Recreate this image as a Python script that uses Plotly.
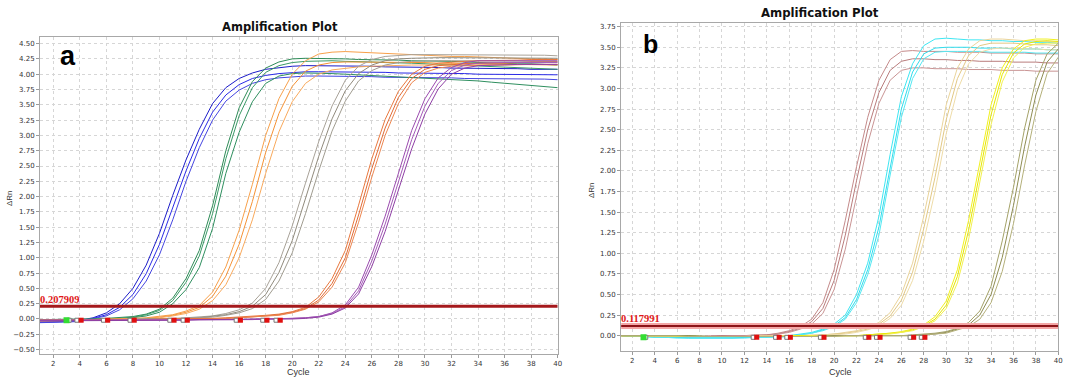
import plotly.graph_objects as go

cycles = list(range(1, 41))
x_ticks = list(range(2, 41, 2))
y_ticks_a = [-0.5 + 0.25 * i for i in range(21)]
y_ticks_b = [0.25 * i for i in range(16)]

# ---------------- panel a ----------------
blue_1 = [-0.05,-0.05,-0.04,-0.02,0.02,0.10,0.25,0.50,0.88,1.40, 2.02,2.60,3.10,3.52,3.78,3.93,4.02,4.08,4.11,4.13, 4.14,4.14,4.14,4.13,4.13,4.13,4.12,4.12,4.11,4.11, 4.11,4.10,4.10,4.10,4.09,4.09,4.09,4.08,4.08,4.08]
blue_2 = [-0.05,-0.05,-0.04,-0.03,0.01,0.07,0.19,0.40,0.74,1.22, 1.82,2.42,2.95,3.38,3.66,3.83,3.93,3.98,4.01,4.03, 4.04,4.04,4.04,4.04,4.03,4.03,4.03,4.02,4.02,4.02, 4.01,4.01,4.01,4.00,4.00,4.00,3.99,3.99,3.99,3.99]
blue_3 = [-0.06,-0.06,-0.05,-0.04,0.00,0.05,0.15,0.33,0.62,1.05, 1.62,2.25,2.80,3.25,3.56,3.74,3.85,3.91,3.94,3.96, 3.97,3.97,3.97,3.96,3.96,3.96,3.95,3.95,3.95,3.94, 3.94,3.94,3.93,3.93,3.93,3.92,3.92,3.92,3.92,3.91]
green_1 = [-0.01,-0.01,-0.01,0.00,0.00,0.01,0.02,0.04,0.08,0.16, 0.34,0.66,1.12,1.85,2.75,3.45,3.88,4.10,4.20,4.25, 4.26,4.26,4.25,4.25,4.24,4.24,4.23,4.23,4.22,4.22, 4.21,4.21,4.20,4.19,4.19,4.18,4.17,4.17,4.16,4.15]
green_2 = [-0.01,-0.01,-0.01,-0.01,0.00,0.00,0.01,0.03,0.07,0.14, 0.30,0.60,1.03,1.72,2.62,3.32,3.78,4.03,4.14,4.19, 4.21,4.22,4.22,4.21,4.21,4.20,4.19,4.19,4.18,4.17, 4.16,4.16,4.15,4.14,4.13,4.12,4.11,4.10,4.09,4.08]
green_3 = [-0.02,-0.02,-0.01,-0.01,-0.01,0.00,0.01,0.02,0.05,0.11, 0.25,0.48,0.84,1.48,2.38,3.05,3.55,3.85,3.97,4.01, 4.02,4.02,4.01,4.00,3.99,3.98,3.97,3.96,3.95,3.94, 3.93,3.92,3.91,3.89,3.87,3.85,3.83,3.81,3.80,3.78]
orange_1 = [-0.02,-0.02,-0.02,-0.01,-0.01,0.00,0.00,0.01,0.02,0.04, 0.07,0.13,0.22,0.44,0.85,1.45,2.20,3.00,3.60,4.00, 4.22,4.33,4.36,4.37,4.36,4.35,4.33,4.32,4.31,4.30, 4.30,4.29,4.29,4.28,4.27,4.27,4.26,4.25,4.25,4.24]
orange_2 = [-0.02,-0.02,-0.02,-0.02,-0.01,-0.01,0.00,0.00,0.01,0.03, 0.06,0.11,0.19,0.37,0.70,1.22,1.92,2.72,3.36,3.80, 4.05,4.15,4.19,4.20,4.20,4.20,4.20,4.19,4.19,4.19, 4.18,4.18,4.18,4.17,4.17,4.17,4.16,4.16,4.15,4.15]
orange_3 = [-0.03,-0.03,-0.02,-0.02,-0.02,-0.01,-0.01,0.00,0.01,0.02, 0.05,0.09,0.16,0.30,0.56,1.00,1.62,2.38,3.06,3.55, 3.85,4.00,4.07,4.10,4.12,4.13,4.14,4.14,4.15,4.15, 4.15,4.15,4.16,4.16,4.16,4.16,4.16,4.16,4.16,4.16]
gray_1 = [-0.02,-0.02,-0.02,-0.02,-0.01,-0.01,-0.01,0.00,0.00,0.00, 0.01,0.02,0.03,0.05,0.09,0.15,0.26,0.50,0.92,1.52, 2.22,2.90,3.48,3.90,4.13,4.24,4.29,4.31,4.32,4.32, 4.32,4.32,4.32,4.32,4.31,4.31,4.31,4.31,4.31,4.30]
gray_2 = [-0.02,-0.02,-0.02,-0.02,-0.02,-0.01,-0.01,-0.01,0.00,0.00, 0.00,0.01,0.02,0.04,0.07,0.12,0.21,0.40,0.76,1.28, 1.97,2.66,3.27,3.73,4.01,4.15,4.22,4.25,4.26,4.27, 4.27,4.27,4.27,4.27,4.27,4.26,4.26,4.26,4.26,4.26]
gray_3 = [-0.03,-0.03,-0.02,-0.02,-0.02,-0.02,-0.01,-0.01,-0.01,0.00, 0.00,0.01,0.02,0.03,0.06,0.10,0.17,0.32,0.62,1.08, 1.72,2.42,3.07,3.56,3.89,4.06,4.15,4.19,4.21,4.22, 4.22,4.22,4.22,4.22,4.22,4.22,4.21,4.21,4.21,4.21]
coral_1 = [-0.02,-0.02,-0.02,-0.02,-0.02,-0.01,-0.01,-0.01,-0.01,0.00, 0.00,0.00,0.01,0.01,0.02,0.03,0.04,0.06,0.08,0.12, 0.19,0.36,0.66,1.12,1.86,2.62,3.26,3.72,4.00,4.13, 4.18,4.20,4.21,4.22,4.22,4.23,4.23,4.24,4.24,4.24]
coral_2 = [-0.02,-0.02,-0.02,-0.02,-0.02,-0.02,-0.01,-0.01,-0.01,-0.01, 0.00,0.00,0.00,0.01,0.01,0.02,0.03,0.05,0.07,0.11, 0.17,0.31,0.58,1.00,1.70,2.46,3.12,3.62,3.93,4.08, 4.14,4.16,4.17,4.18,4.18,4.19,4.19,4.20,4.20,4.20]
coral_3 = [-0.03,-0.03,-0.02,-0.02,-0.02,-0.02,-0.02,-0.01,-0.01,-0.01, -0.01,0.00,0.00,0.00,0.01,0.02,0.03,0.04,0.06,0.10, 0.16,0.28,0.52,0.92,1.58,2.32,3.00,3.52,3.86,4.03, 4.10,4.13,4.14,4.15,4.15,4.15,4.16,4.16,4.16,4.16]
purple_1 = [-0.02,-0.02,-0.02,-0.02,-0.02,-0.02,-0.02,-0.02,-0.02,-0.02, -0.01,-0.01,-0.01,-0.01,-0.01,-0.01,0.00,0.00,0.00,0.01, 0.02,0.04,0.10,0.23,0.52,1.05,1.68,2.40,3.08,3.60, 3.94,4.11,4.19,4.22,4.22,4.22,4.22,4.22,4.22,4.22]
purple_2 = [-0.02,-0.02,-0.02,-0.02,-0.02,-0.02,-0.02,-0.02,-0.02,-0.02, -0.02,-0.01,-0.01,-0.01,-0.01,-0.01,-0.01,0.00,0.00,0.01, 0.02,0.04,0.09,0.20,0.46,0.95,1.55,2.25,2.93,3.48, 3.85,4.06,4.15,4.18,4.19,4.19,4.19,4.19,4.19,4.19]
purple_3 = [-0.03,-0.03,-0.03,-0.02,-0.02,-0.02,-0.02,-0.02,-0.02,-0.02, -0.02,-0.02,-0.01,-0.01,-0.01,-0.01,-0.01,-0.01,0.00,0.00, 0.01,0.03,0.08,0.18,0.41,0.86,1.43,2.10,2.78,3.35, 3.76,4.00,4.10,4.14,4.15,4.16,4.16,4.16,4.16,4.16]

# ---------------- panel b ----------------
rosy_1 = [0.00,0.00,0.00,-0.01,-0.01,-0.01,-0.01,-0.01,0.00,0.00, 0.00,0.00,0.01,0.01,0.03,0.06,0.11,0.20,0.40,0.80, 1.40,2.05,2.65,3.10,3.35,3.45,3.46,3.45,3.45,3.45, 3.44,3.44,3.44,3.43,3.43,3.43,3.43,3.42,3.42,3.42]
rosy_2 = [0.00,0.00,-0.01,-0.01,-0.01,-0.01,-0.01,-0.01,-0.01,0.00, 0.00,0.00,0.00,0.01,0.02,0.05,0.09,0.17,0.33,0.67, 1.22,1.88,2.50,2.95,3.22,3.33,3.36,3.36,3.35,3.35, 3.34,3.34,3.33,3.33,3.33,3.32,3.32,3.32,3.31,3.31]
rosy_3 = [0.00,-0.01,-0.01,-0.01,-0.01,-0.02,-0.02,-0.01,-0.01,-0.01, 0.00,0.00,0.00,0.00,0.02,0.04,0.08,0.14,0.27,0.56, 1.05,1.70,2.33,2.82,3.10,3.22,3.25,3.25,3.24,3.24, 3.24,3.23,3.23,3.23,3.22,3.22,3.22,3.21,3.21,3.21]
cyan_1 = [0.00,0.00,-0.01,-0.01,-0.02,-0.02,-0.02,-0.02,-0.02,-0.02, -0.02,-0.02,-0.02,-0.01,-0.01,0.00,0.02,0.04,0.08,0.14, 0.25,0.50,0.88,1.45,2.20,2.90,3.30,3.52,3.60,3.61, 3.60,3.59,3.59,3.58,3.58,3.57,3.57,3.56,3.56,3.55]
cyan_2 = [0.00,-0.01,-0.01,-0.02,-0.02,-0.02,-0.03,-0.03,-0.03,-0.03, -0.03,-0.02,-0.02,-0.02,-0.01,0.00,0.01,0.03,0.07,0.12, 0.22,0.44,0.80,1.32,2.05,2.75,3.20,3.42,3.49,3.50, 3.50,3.50,3.49,3.49,3.49,3.48,3.48,3.48,3.47,3.47]
cyan_3 = [0.00,-0.01,-0.01,-0.02,-0.02,-0.03,-0.03,-0.03,-0.03,-0.03, -0.03,-0.03,-0.02,-0.02,-0.02,-0.01,0.01,0.03,0.06,0.11, 0.20,0.40,0.74,1.22,1.95,2.65,3.12,3.36,3.44,3.45, 3.45,3.45,3.45,3.44,3.44,3.44,3.44,3.43,3.43,3.43]
wheat_1 = [0.00,0.00,0.00,0.00,0.00,-0.01,-0.01,-0.01,-0.01,-0.01, -0.01,-0.01,0.00,0.00,0.00,0.00,0.00,0.01,0.01,0.02, 0.04,0.06,0.10,0.16,0.28,0.50,0.88,1.45,2.10,2.80, 3.25,3.48,3.58,3.60,3.60,3.59,3.58,3.58,3.57,3.56]
wheat_2 = [0.00,0.00,0.00,0.00,-0.01,-0.01,-0.01,-0.01,-0.01,-0.01, -0.01,-0.01,-0.01,0.00,0.00,0.00,0.00,0.00,0.01,0.02, 0.03,0.05,0.08,0.14,0.24,0.43,0.77,1.30,1.92,2.62, 3.12,3.40,3.52,3.55,3.55,3.55,3.54,3.53,3.53,3.52]
wheat_3 = [0.00,0.00,0.00,-0.01,-0.01,-0.01,-0.01,-0.01,-0.01,-0.01, -0.01,-0.01,-0.01,-0.01,0.00,0.00,0.00,0.00,0.01,0.01, 0.02,0.04,0.07,0.12,0.21,0.37,0.67,1.15,1.75,2.45, 2.98,3.30,3.44,3.48,3.49,3.49,3.48,3.48,3.47,3.47]
yellow_1 = [0.00,0.00,0.00,0.00,0.00,0.00,0.00,-0.01,-0.01,-0.01, -0.01,-0.01,-0.01,-0.01,-0.01,0.00,0.00,0.00,0.00,0.00, 0.00,0.00,0.01,0.02,0.03,0.05,0.08,0.13,0.23,0.42, 0.80,1.40,2.10,2.80,3.25,3.48,3.58,3.60,3.60,3.59]
yellow_2 = [0.00,0.00,0.00,0.00,0.00,0.00,-0.01,-0.01,-0.01,-0.01, -0.01,-0.01,-0.01,-0.01,-0.01,-0.01,0.00,0.00,0.00,0.00, 0.00,0.00,0.01,0.02,0.03,0.04,0.07,0.12,0.20,0.37, 0.72,1.28,1.98,2.68,3.17,3.43,3.54,3.57,3.58,3.57]
yellow_3 = [0.00,0.00,0.00,0.00,0.00,-0.01,-0.01,-0.01,-0.01,-0.01, -0.01,-0.01,-0.01,-0.01,-0.01,-0.01,-0.01,0.00,0.00,0.00, 0.00,0.00,0.00,0.01,0.02,0.04,0.06,0.11,0.18,0.33, 0.64,1.17,1.85,2.56,3.08,3.37,3.50,3.54,3.55,3.55]
olive_1 = [0.00,0.00,0.00,0.00,0.00,0.00,0.00,0.00,-0.01,-0.01, -0.01,-0.01,-0.01,-0.01,-0.01,-0.01,-0.01,-0.01,0.00,0.00, 0.00,0.00,0.00,0.00,0.00,0.00,0.01,0.02,0.03,0.05, 0.09,0.16,0.30,0.60,1.15,1.80,2.52,3.10,3.42,3.55]
olive_2 = [0.00,0.00,0.00,0.00,0.00,0.00,0.00,-0.01,-0.01,-0.01, -0.01,-0.01,-0.01,-0.01,-0.01,-0.01,-0.01,-0.01,-0.01,0.00, 0.00,0.00,0.00,0.00,0.00,0.00,0.00,0.01,0.02,0.04, 0.08,0.13,0.25,0.50,0.95,1.58,2.30,2.92,3.32,3.48]
olive_3 = [0.00,0.00,0.00,0.00,0.00,0.00,-0.01,-0.01,-0.01,-0.01, -0.01,-0.01,-0.01,-0.01,-0.01,-0.01,-0.01,-0.01,-0.01,-0.01, 0.00,0.00,0.00,0.00,0.00,0.00,0.00,0.01,0.02,0.03, 0.07,0.11,0.20,0.40,0.78,1.36,2.07,2.72,3.18,3.38]

threshold_a = 0.207909
threshold_b = 0.117991
marker_cycles_a = [4, 6, 8, 11, 12, 16, 18, 19]
marker_cycles_b = [13, 15, 16, 19, 23, 24, 27, 28]
start_cycle_a = [3]
start_cycle_b = [3]
marker_level = -0.02

series_a = [
    (blue_1, "#1c1cc8"), (blue_2, "#2a2ae6"), (blue_3, "#4545e0"),
    (green_1, "#2e8b57"), (green_2, "#3a9a66"), (green_3, "#2f8f5f"),
    (orange_1, "#f7a04a"), (orange_2, "#f59235"), (orange_3, "#f8a95c"),
    (gray_1, "#a8a298"), (gray_2, "#908a7c"), (gray_3, "#a09c90"),
    (coral_1, "#e8783e"), (coral_2, "#e06a35"), (coral_3, "#ec8650"),
    (purple_1, "#9a4aae"), (purple_2, "#a45ab8"), (purple_3, "#8e3ea4"),
]
series_b = [
    (rosy_1, "#c48a8a"), (rosy_2, "#b97c7c"), (rosy_3, "#c99494"),
    (cyan_1, "#3ee6f2"), (cyan_2, "#30dcec"), (cyan_3, "#55e8f2"),
    (wheat_1, "#ead49a"), (wheat_2, "#e2c884"), (wheat_3, "#eedca8"),
    (yellow_1, "#f0f020"), (yellow_2, "#e6e600"), (yellow_3, "#f2f050"),
    (olive_1, "#a4a268"), (olive_2, "#8e8c52"), (olive_3, "#b4b07a"),
]

fig = go.Figure()
for ys, col in series_a:
    fig.add_trace(go.Scatter(x=cycles, y=ys, mode="lines", line=dict(color=col, width=1),
                             xaxis="x", yaxis="y", showlegend=False, hoverinfo="skip"))
for ys, col in series_b:
    fig.add_trace(go.Scatter(x=cycles, y=ys, mode="lines", line=dict(color=col, width=1),
                             xaxis="x2", yaxis="y2", showlegend=False, hoverinfo="skip"))

# threshold lines
fig.add_trace(go.Scatter(x=[1, 40], y=[threshold_a, threshold_a], mode="lines",
                         line=dict(color="#a5191c", width=3), xaxis="x", yaxis="y",
                         showlegend=False, hoverinfo="skip"))
fig.add_trace(go.Scatter(x=[1, 40], y=[threshold_b, threshold_b], mode="lines",
                         line=dict(color="#f4a6a6", width=6), xaxis="x2", yaxis="y2",
                         showlegend=False, hoverinfo="skip"))
fig.add_trace(go.Scatter(x=[1, 40], y=[threshold_b, threshold_b], mode="lines",
                         line=dict(color="#8c1418", width=2), xaxis="x2", yaxis="y2",
                         showlegend=False, hoverinfo="skip"))

# baseline markers
for xa, ya, mc, sc in (("x", "y", marker_cycles_a, start_cycle_a), ("x2", "y2", marker_cycles_b, start_cycle_b)):
    fig.add_trace(go.Scatter(x=[c - 0.22 for c in mc], y=[marker_level] * len(mc), mode="markers",
                             marker=dict(symbol="square", size=4, color="white",
                                         line=dict(color="#777777", width=1)),
                             xaxis=xa, yaxis=ya, showlegend=False, hoverinfo="skip"))
    fig.add_trace(go.Scatter(x=[c + 0.1 for c in mc], y=[marker_level] * len(mc), mode="markers",
                             marker=dict(symbol="square", size=5, color="#e01010"),
                             xaxis=xa, yaxis=ya, showlegend=False, hoverinfo="skip"))
    fig.add_trace(go.Scatter(x=[c + 0.2 for c in sc], y=[marker_level] * len(sc), mode="markers",
                             marker=dict(symbol="square", size=4, color="white",
                                         line=dict(color="#777777", width=1)),
                             xaxis=xa, yaxis=ya, showlegend=False, hoverinfo="skip"))
    fig.add_trace(go.Scatter(x=sc, y=[marker_level] * len(sc), mode="markers",
                             marker=dict(symbol="square", size=6, color="#33dd33"),
                             xaxis=xa, yaxis=ya, showlegend=False, hoverinfo="skip"))

W, H = 1076, 386
tickfont = dict(family="DejaVu Sans", size=7, color="#333333")
axis_common = dict(showgrid=True, gridcolor="#d6d6d6", griddash="dot", gridwidth=1,
                   showline=True, linecolor="#a8a8a8", linewidth=1, mirror=True,
                   ticks="outside", ticklen=3, tickcolor="#9a9a9a", tickfont=tickfont,
                   zeroline=False, fixedrange=True, automargin=False)

fig.update_layout(
    template="none",
    width=W, height=H, margin=dict(l=0, r=0, t=0, b=0, pad=0),
    paper_bgcolor="white", plot_bgcolor="white",
    xaxis=dict(domain=[40 / W, 557.7 / W], range=[1, 40], tickvals=x_ticks, anchor="y", **axis_common),
    yaxis=dict(domain=[(H - 354) / H, (H - 37.3) / H], range=[-0.572, 4.603], tickvals=y_ticks_a,
               tickformat=".2f", anchor="x", **axis_common),
    xaxis2=dict(domain=[621.1 / W, 1058.3 / W], range=[1, 40], tickvals=x_ticks, anchor="y2", **axis_common),
    yaxis2=dict(domain=[(H - 351) / H, (H - 23.3) / H], range=[-0.186, 3.791], tickvals=y_ticks_b,
                tickformat=".2f", anchor="x2", **axis_common),
)

def px_ann(x, y, text, size, family="DejaVu Sans", color="#111111", angle=0, xanchor="center", yanchor="middle"):
    fig.add_annotation(x=x / W, y=1 - y / H, xref="paper", yref="paper", text=text, showarrow=False,
                       font=dict(family=family, size=size, color=color), textangle=angle,
                       xanchor=xanchor, yanchor=yanchor)

px_ann(280, 27, "<b>Amplification Plot</b>", 11.5)
px_ann(820, 13, "<b>Amplification Plot</b>", 11.7)
px_ann(68, 56, "<b>a</b>", 27, family="Liberation Sans", color="#000000")
px_ann(650, 44, "<b>b</b>", 25, family="Liberation Sans", color="#000000")
px_ann(298, 372, "Cycle", 9, family="Liberation Sans", color="#333333")
px_ann(840, 372, "Cycle", 9, family="Liberation Sans", color="#333333")
px_ann(9, 198, "ΔRn", 8, family="Liberation Sans", color="#333333", angle=-90)
px_ann(591, 190, "ΔRn", 8, family="Liberation Sans", color="#333333", angle=-90)

fig.add_annotation(x=1, y=threshold_a, xref="x", yref="y", text="<b>0.207909</b>", showarrow=False,
                   xanchor="left", yanchor="bottom", yshift=-1, xshift=-2,
                   font=dict(family="Liberation Serif", size=10.5, color="#e01818"))
fig.add_annotation(x=1, y=threshold_b, xref="x2", yref="y2", text="<b>0.117991</b>", showarrow=False,
                   xanchor="left", yanchor="bottom", yshift=0, xshift=-2,
                   font=dict(family="Liberation Serif", size=10.5, color="#e01818"))

fig.write_html("out.html", config={"displayModeBar": False},
               post_script="document.body.style.margin='0px';document.body.style.overflow='hidden';")
